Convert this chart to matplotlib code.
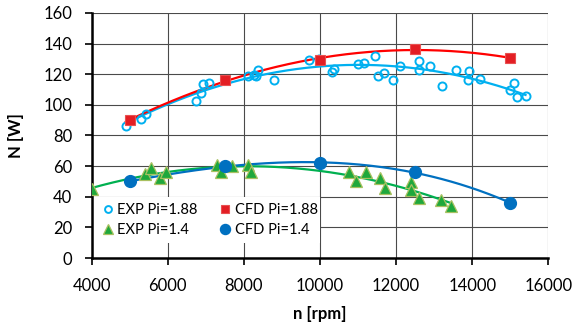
import numpy as np
import matplotlib
matplotlib.use("Agg")
import matplotlib.pyplot as plt
from matplotlib.patches import Rectangle

plt.rcParams['font.family'] = ['Lato', 'DejaVu Sans']

# EXP Pi=1.88
exp188_x = [4900, 5300, 5420, 6750, 6870, 6940, 7090, 8120, 8260, 8330, 8360, 8800,
            9700, 9980, 10310, 10380, 11010, 11150, 11440, 11530, 11680, 11920, 12100,
            12600, 12600, 12880, 13200, 13570, 13900, 13920, 14200, 14980, 15110, 15180, 15400]
exp188_y = [86.5, 91, 94, 102.5, 108, 113.5, 114, 119, 119.5, 119, 122.5, 116.5,
            129.5, 130, 121.5, 123.5, 126.5, 127, 132, 119, 121, 116.5, 125.5,
            128.5, 123, 125.5, 112, 123, 116.5, 122, 117, 109.5, 114, 105, 106]

# CFD Pi=1.88
cfd188_x = [5000, 7500, 10000, 12500, 15000]
cfd188_y = [90, 116, 129.5, 136.5, 130.5]

# EXP Pi=1.4
exp14_x = [4000, 5400, 5550, 5800, 5950, 7290, 7400, 7680, 8120, 8200,
           10760, 10940, 11210, 11580, 11720, 12400, 12400, 12600, 13190, 13430]
exp14_y = [45, 55, 59, 52, 56.5, 61, 56, 60, 60.5, 56,
           56.5, 50, 56, 52.5, 46, 49.5, 44.5, 39, 38, 34]

# CFD Pi=1.4
cfd14_x = [5000, 7500, 10000, 12500, 15000]
cfd14_y = [50, 60, 62, 56, 36]

x_ticks = [4000, 6000, 8000, 10000, 12000, 14000, 16000]
y_ticks = [0, 20, 40, 60, 80, 100, 120, 140, 160]

c_cyan = '#00B0F0'
c_red = '#FF0000'
c_green = '#1FA83C'
c_blue = '#0070C0'

fig = plt.figure(figsize=(5.76, 3.23), dpi=100)
ax = fig.add_axes([0.159, 0.201, 0.793, 0.759])


def trend(x, y, deg, x0=None, x1=None):
    p = np.polyfit(x, y, deg)
    xs = np.linspace(min(x) if x0 is None else x0, max(x) if x1 is None else x1, 200)
    return xs, np.polyval(p, xs)


# trend lines
xs, ys = trend(exp188_x, exp188_y, 2)
ax.plot(xs, ys, color=c_cyan, lw=1.6, zorder=3)
xs, ys = trend(cfd188_x, cfd188_y, 3, x0=4900)
ax.plot(xs, ys, color=c_red, lw=1.6, zorder=3)
xs, ys = trend(exp14_x, exp14_y, 2)
ax.plot(xs, ys, color='#00B050', lw=1.6, zorder=3)
xs, ys = trend(cfd14_x, cfd14_y, 3)
ax.plot(xs, ys, color=c_blue, lw=1.6, zorder=3)

# markers
h1, = ax.plot(exp188_x, exp188_y, 'o', ms=5.8, mfc='none', mec=c_cyan, mew=1.4, zorder=4,
              label='EXP Pi=1.88')
h2, = ax.plot(cfd188_x, cfd188_y, 's', ms=6.5, mfc='#E31E24', mec='#E85050', mew=0.8, zorder=5,
              label='CFD Pi=1.88')
h3, = ax.plot(exp14_x, exp14_y, '^', ms=9, mfc=c_green, mec='#A8C060', mew=0.9, zorder=4,
              label='EXP Pi=1.4')
h4, = ax.plot(cfd14_x, cfd14_y, 'o', ms=8.5, mfc=c_blue, mec=c_blue, zorder=5,
              label='CFD Pi=1.4')

ax.set_xlim(4000, 16000)
ax.set_ylim(0, 160)
ax.set_xticks(x_ticks)
ax.set_yticks(y_ticks)
ax.grid(True, color='#4a4a4a', lw=0.8)
ax.set_axisbelow(True)

for s in ['top', 'right']:
    ax.spines[s].set_visible(False)
for s in ['left', 'bottom']:
    ax.spines[s].set_linewidth(1.8)
    ax.spines[s].set_color('black')
ax.tick_params(axis='both', direction='out', length=5, width=1.2, labelsize=12,
               colors='black')
ax.tick_params(axis='x', pad=9)
ax.tick_params(axis='y', pad=9)

ax.set_xlabel('n [rpm]', fontsize=12, fontweight='bold', labelpad=9)
ax.set_ylabel('N [W]', fontsize=12, fontweight='bold', labelpad=14)

# white legend background covering grid
ax.add_patch(Rectangle((0.003, 0.061), 0.497, 0.188, transform=ax.transAxes,
                       facecolor='white', edgecolor='none', zorder=1.5))

leg = ax.legend(handles=[h1, h3, h2, h4], loc='center', bbox_to_anchor=(0.26, 0.155),
                ncol=2, frameon=False,
                fontsize=10.5, handlelength=0.6, handletextpad=0.35,
                columnspacing=1.6, labelspacing=0.45, borderpad=0.2,
                markerscale=0.85)
leg.set_zorder(6)

fig.savefig('out.png', dpi=100)
